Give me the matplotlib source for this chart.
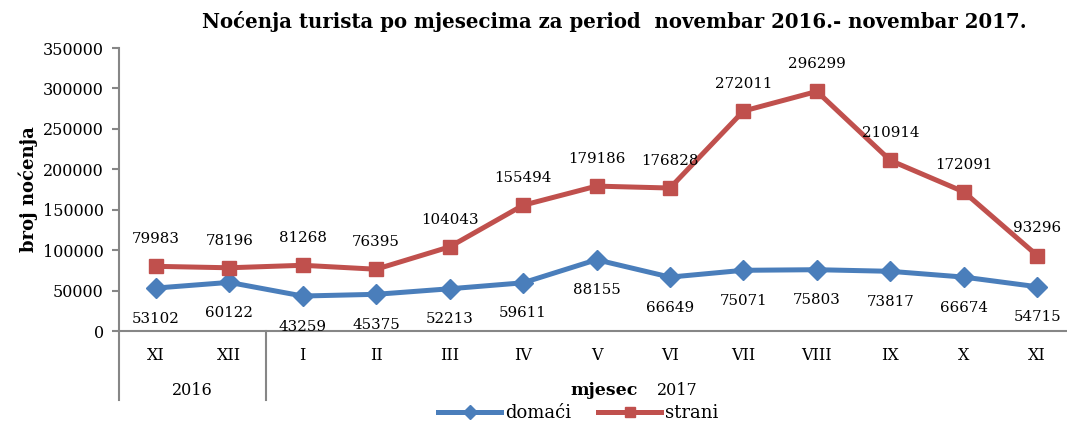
import matplotlib.pyplot as plt
from matplotlib.lines import Line2D

plt.rcParams['font.family'] = ['DejaVu Serif']

# data
mjeseci = ['XI', 'XII', 'I', 'II', 'III', 'IV', 'V', 'VI', 'VII', 'VIII', 'IX', 'X', 'XI']
domaci = [53102, 60122, 43259, 45375, 52213, 59611, 88155, 66649, 75071, 75803, 73817, 66674, 54715]
strani = [79983, 78196, 81268, 76395, 104043, 155494, 179186, 176828, 272011, 296299, 210914, 172091, 93296]
godine = ['2016', '2017']
yticks = [0, 50000, 100000, 150000, 200000, 250000, 300000, 350000]

blue = '#4A7EBB'
red = '#C0504D'
gray = '#868686'

fig = plt.figure(figsize=(10.67, 4.23), dpi=100)
ax = fig.add_axes([119/1067, 1 - 331/423, (1074 - 119)/1067, (331 - 48)/423])

x = list(range(len(mjeseci)))
ax.plot(x, domaci, color=blue, lw=3.6, marker='D', ms=10, label='domaći', zorder=3)
ax.plot(x, strani, color=red, lw=3.6, marker='s', ms=10, label='strani', zorder=3)

for i, v in enumerate(domaci):
    ax.annotate(str(v), (i, v), xytext=(0, -22), textcoords='offset points',
                ha='center', va='center', fontsize=10.8)
for i, v in enumerate(strani):
    ax.annotate(str(v), (i, v), xytext=(0, 19.5), textcoords='offset points',
                ha='center', va='center', fontsize=10.8)

ax.set_xlim(-0.5, len(mjeseci) - 0.5)
ax.set_ylim(0, 350000)
ax.set_yticks(yticks)
ax.set_yticklabels([str(t) for t in yticks], fontsize=11.5)
ax.tick_params(axis='y', length=5, color=gray, width=1.5, pad=6)
ax.set_xticks([])

for s in ['top', 'right']:
    ax.spines[s].set_visible(False)
ax.spines['left'].set_color(gray)
ax.spines['left'].set_linewidth(1.5)
ax.spines['bottom'].set_color(gray)
ax.spines['bottom'].set_linewidth(1.5)

# category labels and year groups
for i, m in enumerate(mjeseci):
    ax.text(i, -0.085, m, transform=ax.get_xaxis_transform(), ha='center', va='center', fontsize=11.5)
ax.text(0.5, -0.21, godine[0], transform=ax.get_xaxis_transform(), ha='center', va='center', fontsize=11.5)
ax.text(7.1, -0.21, godine[1], transform=ax.get_xaxis_transform(), ha='center', va='center', fontsize=11.5)
ax.text(6.1, -0.21, 'mjesec', transform=ax.get_xaxis_transform(), ha='center', va='center',
        fontsize=12.5, fontweight='bold')
for xv in [-0.5, 1.5]:
    ax.plot([xv, xv], [0, -0.245], transform=ax.get_xaxis_transform(), color=gray, lw=1.5,
            clip_on=False)

ax.set_ylabel('broj noćenja', fontsize=13, fontweight='bold')
ax.yaxis.set_label_coords(-0.085, 0.5)

fig.text(614/1067, 1 - 22/423, 'Noćenja turista po mjesecima za period  novembar 2016.- novembar 2017.',
         ha='center', va='center', fontsize=14.2, fontweight='bold')

handles = [Line2D([], [], color=blue, lw=3.6, marker='D', ms=7),
           Line2D([], [], color=red, lw=3.6, marker='s', ms=7)]
fig.legend(handles, ['domaći', 'strani'], loc='center', bbox_to_anchor=(578/1067, 1 - 413/423),
           ncol=2, frameon=False, fontsize=13, handlelength=3.5, handletextpad=0.2,
           columnspacing=1.5)

fig.savefig('out.png', dpi=100)
